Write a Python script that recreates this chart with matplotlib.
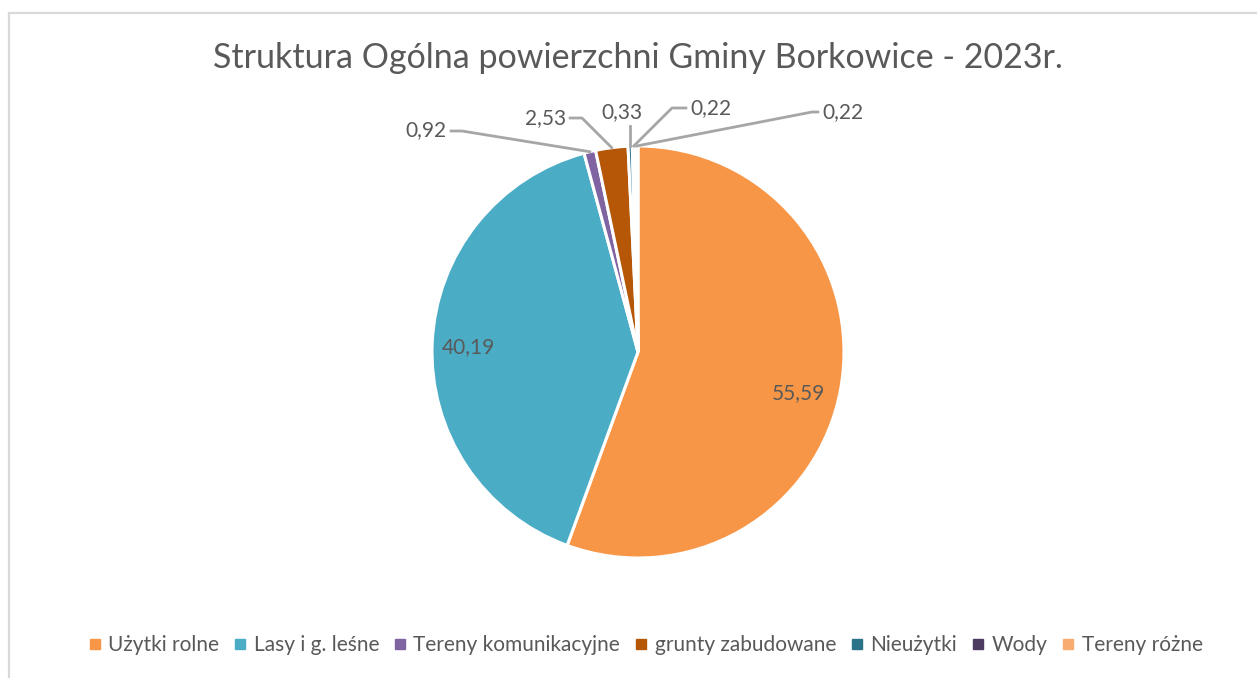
import matplotlib
matplotlib.use('Agg')
import matplotlib.pyplot as plt
from matplotlib.lines import Line2D
import numpy as np

plt.rcParams['font.family'] = ['Lato', 'DejaVu Sans']

# data
categories = ['Użytki rolne', 'Lasy i g. leśne', 'Tereny komunikacyjne',
              'grunty zabudowane', 'Nieużytki', 'Wody', 'Tereny różne']
values = [55.59, 40.19, 0.92, 2.53, 0.33, 0.22, 0.22]
colors = ['#F79646', '#4BACC6', '#8064A2', '#B65708', '#2A7389', '#4D3B62', '#F9AC6F']
title = 'Struktura Ogólna powierzchni Gminy Borkowice - 2023r.'
txt = '#595959'

W, H = 1257, 678
fig = plt.figure(figsize=(W / 100, H / 100), dpi=100)

# pie centre and radius in pixels
cx, cy, r = 638, 352, 206
ax = fig.add_axes([(cx - r) / W, (H - cy - r) / H, 2 * r / W, 2 * r / H])

wedges, _ = ax.pie(values, colors=colors, startangle=90, counterclock=False,
                   radius=1, wedgeprops=dict(edgecolor='white', linewidth=2.2))
ax.set_xlim(-1, 1)
ax.set_ylim(-1, 1)
ax.set_aspect('equal')
ax.axis('off')

def fmt(v):
    return ('%.2f' % v).replace('.', ',')

def px2d(p):
    return ((p[0] - cx) / r, (cy - p[1]) / r)

# inside labels for the two big slices (label pos in px)
inside = {0: (798, 393), 1: (468, 347)}
# outside labels: (label pos in px, elbow pos in px, alignment)
outside = {
    2: ((447, 130), (462, 131), 'right'),
    3: ((566, 118), (582, 118), 'right'),
    4: ((622, 112), (630, 126), 'center'),
    5: ((690, 108), (672, 108), 'left'),
    6: ((822, 112), (812, 112), 'left'),
}

fs = 15
for i, w in enumerate(wedges):
    mid = np.deg2rad((w.theta1 + w.theta2) / 2)
    if i in inside:
        lx, ly = px2d(inside[i])
        ax.text(lx, ly, fmt(values[i]), ha='center', va='center', fontsize=fs, color=txt)
    else:
        lp, ep, ha = outside[i]
        sx, sy = np.cos(mid), np.sin(mid)
        ex, ey = px2d(ep)
        lx, ly = px2d(lp)
        if ha == 'center':
            ax.plot([sx, sx], [sy, ey], color='#A6A6A6', lw=2, clip_on=False)
        else:
            ax.plot([sx, ex, lx + (0.02 if ha == 'right' else -0.02)], [sy, ey, ey],
                    color='#A6A6A6', lw=2, clip_on=False)
        ax.text(lx, ly, fmt(values[i]), ha=ha, va='center', fontsize=fs, color=txt)

fig.text(cx / W, 1 - 58 / H, title, ha='center', va='center', fontsize=24.5, color=txt)

handles = [Line2D([], [], marker='s', linestyle='none', markersize=7,
                  markerfacecolor=c, markeredgecolor=c) for c in colors]
leg = fig.legend(handles, categories, loc='center', bbox_to_anchor=(645 / W, 1 - 645 / H),
                 ncol=len(categories), frameon=False, fontsize=15, handlelength=0.7,
                 handletextpad=0.3, columnspacing=0.65, labelcolor=txt)

# chart frame (top and left edges)
fig.add_artist(Line2D([9 / W, 1], [1 - 12.5 / H, 1 - 12.5 / H], color='#D9D9D9', lw=1.6))
fig.add_artist(Line2D([9 / W, 9 / W], [0, 1 - 12.5 / H], color='#D9D9D9', lw=1.6))

fig.savefig('out.png', dpi=100)
